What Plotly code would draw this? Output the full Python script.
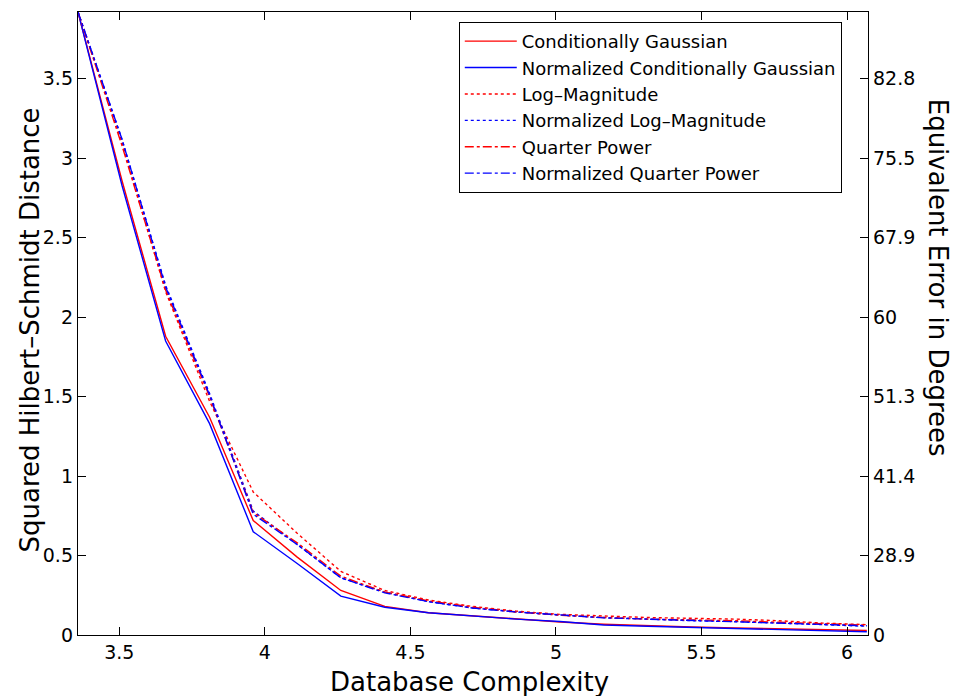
import plotly.graph_objects as go

# Database complexity (x) sample positions
complexity = [3.358, 3.509, 3.659, 3.810, 3.960, 4.111, 4.261, 4.412, 4.562, 4.713,
              4.863, 5.014, 5.164, 5.315, 5.465, 5.616, 5.766, 5.917, 6.068]

# Squared Hilbert-Schmidt distance for each method
cond_gauss = [3.92, 2.86, 1.88, 1.37, 0.72, 0.49, 0.28, 0.18, 0.14, 0.12,
              0.10, 0.082, 0.068, 0.058, 0.050, 0.044, 0.038, 0.032, 0.028]
norm_cond_gauss = [3.92, 2.83, 1.85, 1.33, 0.65, 0.45, 0.245, 0.175, 0.14, 0.12,
                   0.10, 0.085, 0.063, 0.055, 0.048, 0.042, 0.035, 0.030, 0.020]
log_mag = [3.92, 3.10, 2.16, 1.47, 0.90, 0.64, 0.40, 0.28, 0.22, 0.18,
           0.15, 0.13, 0.12, 0.11, 0.105, 0.10, 0.09, 0.075, 0.065]
norm_log_mag = [3.92, 3.12, 2.20, 1.52, 0.78, 0.57, 0.36, 0.27, 0.21, 0.17,
                0.145, 0.125, 0.11, 0.10, 0.09, 0.085, 0.075, 0.065, 0.055]
quarter_pow = [3.92, 3.08, 2.17, 1.50, 0.77, 0.58, 0.37, 0.27, 0.215, 0.175,
               0.145, 0.125, 0.11, 0.10, 0.095, 0.09, 0.08, 0.07, 0.062]
norm_quarter_pow = [3.92, 3.12, 2.19, 1.51, 0.76, 0.57, 0.36, 0.265, 0.21, 0.17,
                    0.145, 0.125, 0.108, 0.10, 0.092, 0.085, 0.075, 0.068, 0.058]

series_names = ["Conditionally Gaussian", "Normalized Conditionally Gaussian",
                "Log\u2013Magnitude", "Normalized Log\u2013Magnitude",
                "Quarter Power", "Normalized Quarter Power"]
series_values = [cond_gauss, norm_cond_gauss, log_mag, norm_log_mag,
                 quarter_pow, norm_quarter_pow]
series_colors = ["#ff0000", "#0000ff", "#ff0000", "#0000ff", "#ff0000", "#0000ff"]
series_dash = ["solid", "solid", "dot", "dot", "dashdot", "dashdot"]

x_ticks = [3.5, 4, 4.5, 5, 5.5, 6]
x_tick_labels = ["3.5", "4", "4.5", "5", "5.5", "6"]
y_ticks = [0, 0.5, 1, 1.5, 2, 2.5, 3, 3.5]
y_tick_labels = ["0", "0.5", "1", "1.5", "2", "2.5", "3", "3.5"]
deg_tick_labels = ["0", "28.9", "41.4", "51.3", "60", "67.9", "75.5", "82.8"]

FONT = "DejaVu Sans, Liberation Sans, Arial, sans-serif"

fig = go.Figure()
for name, vals, col, dash in zip(series_names, series_values, series_colors, series_dash):
    fig.add_trace(go.Scatter(x=complexity, y=vals, name=name, mode="lines",
                             line=dict(color=col, width=1.4, dash=dash)))

# invisible trace to anchor the right-hand degree axis
fig.add_trace(go.Scatter(x=[complexity[0]], y=[0], yaxis="y2", mode="markers",
                         marker=dict(opacity=0), showlegend=False, hoverinfo="skip"))

yrange = [0, 3.92]
axis_common = dict(showline=True, linecolor="black", linewidth=1.4,
                   ticks="inside", ticklen=8, tickcolor="black", showgrid=False,
                   zeroline=False, tickfont=dict(size=19, family=FONT))
fig.update_layout(
    width=956, height=696,
    margin=dict(l=78, r=88, t=12, b=61),
    paper_bgcolor="white", plot_bgcolor="white",
    font=dict(family=FONT, size=19, color="black"),
    showlegend=True,
    legend=dict(x=0.482, y=0.984, xanchor="left", yanchor="top",
                bordercolor="black", borderwidth=1, bgcolor="white",
                font=dict(size=18, family=FONT), tracegroupgap=0,
                itemwidth=52),
    xaxis=dict(range=[3.358, 6.072], tickvals=x_ticks, ticktext=x_tick_labels,
               mirror="ticks", **axis_common),
    yaxis=dict(range=yrange, tickvals=y_ticks, ticktext=y_tick_labels,
               mirror=False, **axis_common),
    yaxis2=dict(range=yrange, tickvals=y_ticks, ticktext=deg_tick_labels,
                overlaying="y", side="right", **axis_common),
    annotations=[
        dict(text="Database Complexity", xref="paper", yref="paper",
             x=0.496, y=-0.075, xanchor="center", yanchor="middle",
             showarrow=False, font=dict(size=26, family=FONT)),
        dict(text="Squared Hilbert\u2013Schmidt Distance", xref="paper", yref="paper",
             x=-0.061, y=0.49, xanchor="center", yanchor="middle", textangle=-90,
             showarrow=False, font=dict(size=26, family=FONT)),
        dict(text="Equivalent Error in Degrees", xref="paper", yref="paper",
             x=1.089, y=0.573, xanchor="center", yanchor="middle", textangle=90,
             showarrow=False, font=dict(size=26, family=FONT)),
    ],
)

fig.write_html("out.html",
               config={"displayModeBar": False},
               post_script="document.body.style.margin='0px';"
                           "document.body.style.overflow='hidden';")
